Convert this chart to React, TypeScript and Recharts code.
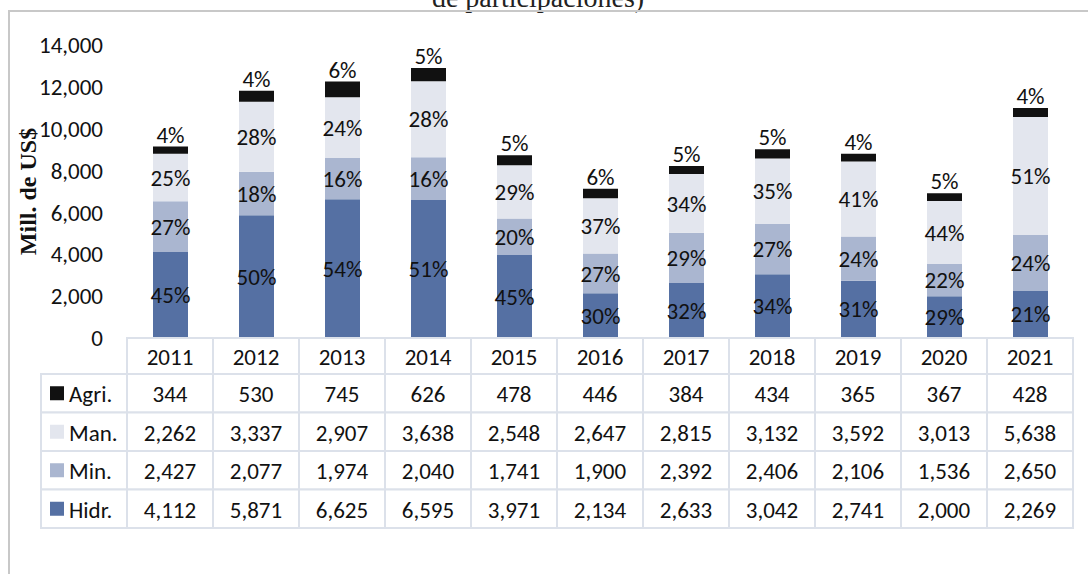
import React from 'react';
import { BarChart, Bar, XAxis, YAxis, LabelList } from 'recharts';

const years = ['2011', '2012', '2013', '2014', '2015', '2016', '2017', '2018', '2019', '2020', '2021'];
const agri = [344, 530, 745, 626, 478, 446, 384, 434, 365, 367, 428];
const man = [2262, 3337, 2907, 3638, 2548, 2647, 2815, 3132, 3592, 3013, 5638];
const min = [2427, 2077, 1974, 2040, 1741, 1900, 2392, 2406, 2106, 1536, 2650];
const hidr = [4112, 5871, 6625, 6595, 3971, 2134, 2633, 3042, 2741, 2000, 2269];
const yTicks = [0, 2000, 4000, 6000, 8000, 10000, 12000, 14000];

const seriesNames = ['Agri.', 'Man.', 'Min.', 'Hidr.'];
const seriesKeys = ['agri', 'man', 'min', 'hidr'];
const colors: Record<string, string> = {
  hidr: '#5570A3',
  min: '#AAB6D0',
  man: '#E3E6EE',
  agri: '#111111',
};

const pct = (v: number, t: number) => `${Math.round((v / t) * 100)}%`;

const data = years.map((year, i) => {
  const total = agri[i] + man[i] + min[i] + hidr[i];
  return {
    year,
    agri: agri[i],
    man: man[i],
    min: min[i],
    hidr: hidr[i],
    agriPct: pct(agri[i], total),
    manPct: pct(man[i], total),
    minPct: pct(min[i], total),
    hidrPct: pct(hidr[i], total),
  };
});

const FONT = 'Carlito, Calibri, "Liberation Sans", Arial, sans-serif';
const FS = 23;
const GRID = '#DCE1EA';
const COL_W = 86;
const HEADER_H = 36;
const ROW_H = 38.5;

const TableTick = (props: any) => {
  const { x, y, payload } = props;
  const idx = payload.index;
  const row = data[idx];
  const left = x - COL_W / 2;
  const els: React.ReactNode[] = [];
  els.push(
    <rect key="h" x={left} y={y} width={COL_W} height={HEADER_H} fill="#fff" stroke={GRID} strokeWidth={2} />
  );
  els.push(
    <text key="ht" x={x} y={y + HEADER_H / 2 + 1} textAnchor="middle" dominantBaseline="central" fontSize={FS} fontFamily={FONT} fill="#111">
      {payload.value}
    </text>
  );
  seriesKeys.forEach((k, r) => {
    const top = y + HEADER_H + r * ROW_H;
    els.push(
      <rect key={`c${r}`} x={left} y={top} width={COL_W} height={ROW_H} fill="#fff" stroke={GRID} strokeWidth={2} />
    );
    els.push(
      <text key={`t${r}`} x={x} y={top + ROW_H / 2 + 1} textAnchor="middle" dominantBaseline="central" fontSize={FS} fontFamily={FONT} fill="#111">
        {(row as any)[k].toLocaleString('en-US')}
      </text>
    );
    if (idx === 0) {
      const lx = left - COL_W;
      els.push(
        <rect key={`l${r}`} x={lx} y={top} width={COL_W} height={ROW_H} fill="#fff" stroke={GRID} strokeWidth={2} />
      );
      els.push(<rect key={`s${r}`} x={lx + 9} y={top + ROW_H / 2 - 7} width={14} height={14} fill={colors[k]} />);
      els.push(
        <text key={`n${r}`} x={lx + 28} y={top + ROW_H / 2 + 1} textAnchor="start" dominantBaseline="central" fontSize={FS} fontFamily={FONT} fill="#111">
          {seriesNames[r]}
        </text>
      );
    }
  });
  return <g>{els}</g>;
};

const YLabel = (props: any) => {
  const vb = props.viewBox || { x: 0, y: 45, width: 127, height: 293 };
  const cy = vb.y + vb.height / 2;
  const cx = vb.x + 36;
  return (
    <text
      x={cx}
      y={cy}
      transform={`rotate(-90, ${cx}, ${cy})`}
      textAnchor="middle"
      fontFamily='"Liberation Serif", "Times New Roman", serif'
      fontWeight="bold"
      fontSize={24}
      fill="#111"
    >
      Mill. de US$
    </text>
  );
};

const labelStyle = { fontSize: FS, fontFamily: FONT, fill: '#111' };

export default function App() {
  return (
    <div style={{ position: 'absolute', left: 0, top: 0, width: 1088, height: 574, background: '#fff' }}>
      <svg width={1088} height={574} style={{ position: 'absolute', left: 0, top: 0 }}>
        <text x={538} y={7} textAnchor="middle" fontFamily='"Liberation Serif", "Times New Roman", serif' fontSize={28} fill="#222">
          de participaciones)
        </text>
        <line x1={8} y1={11} x2={1088} y2={11} stroke="#C8C8C8" strokeWidth={2} />
        <line x1={9} y1={10} x2={9} y2={574} stroke="#C8C8C8" strokeWidth={2} />
      </svg>
      <div style={{ position: 'absolute', left: 0, top: 0 }}>
        <BarChart
          width={1088}
          height={574}
          data={data}
          margin={{ top: 45, right: 15, bottom: 46, left: 0 }}
          barSize={35}
        >
          <XAxis
            dataKey="year"
            height={190}
            axisLine={false}
            tickLine={false}
            tickSize={0}
            tickMargin={0}
            interval={0}
            tick={<TableTick />}
          />
          <YAxis
            width={127}
            domain={[0, 14000]}
            ticks={yTicks}
            axisLine={false}
            tickLine={false}
            tickMargin={18}
            tickFormatter={(v: number) => v.toLocaleString('en-US')}
            tick={{ fontSize: FS, fontFamily: FONT, fill: '#111' }}
            label={<YLabel />}
          />
          <Bar dataKey="hidr" stackId="a" fill={colors.hidr} isAnimationActive={false}>
            <LabelList dataKey="hidrPct" position="center" style={labelStyle} />
          </Bar>
          <Bar dataKey="min" stackId="a" fill={colors.min} isAnimationActive={false}>
            <LabelList dataKey="minPct" position="center" style={labelStyle} />
          </Bar>
          <Bar dataKey="man" stackId="a" fill={colors.man} isAnimationActive={false}>
            <LabelList dataKey="manPct" position="center" style={labelStyle} />
          </Bar>
          <Bar dataKey="agri" stackId="a" fill={colors.agri} isAnimationActive={false}>
            <LabelList dataKey="agriPct" position="top" offset={4} style={labelStyle} />
          </Bar>
        </BarChart>
      </div>
    </div>
  );
}
